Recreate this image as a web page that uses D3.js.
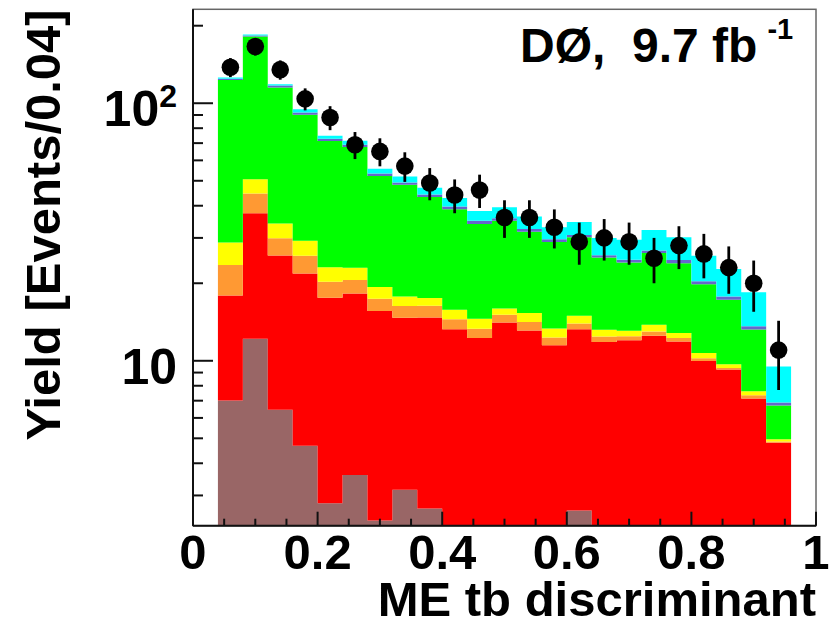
<!DOCTYPE html>
<html>
<head>
<meta charset="utf-8">
<script src="https://cdn.jsdelivr.net/npm/d3@7"></script>
<style>
  body { margin: 0; background: #fff; }
  text { font-family: "Liberation Sans", Arial, Helvetica, sans-serif; font-weight: bold; fill: #000; }
</style>
</head>
<body>
<svg id="chart" width="829" height="627"></svg>
<script>
// Bin edges of the ME tb discriminant histogram (width 0.04)
const binEdges = [0.04, 0.08, 0.12, 0.16, 0.20, 0.24, 0.28, 0.32, 0.36, 0.40, 0.44, 0.48,
                  0.52, 0.56, 0.60, 0.64, 0.68, 0.72, 0.76, 0.80, 0.84, 0.88, 0.92, 0.96];

// Expected yields per bin, one array per process (stacked bottom to top)
const multijet = [7.01, 12.19, 6.45, 4.68, 2.80, 3.60, 2.40, 3.16, 2.67, 0, 0, 0,
                  0, 0, 2.62, 0, 0, 0, 0, 0, 0, 0, 0];
const ttbar    = [10.91, 25.23, 19.18, 17.14, 14.76, 14.65, 13.19, 11.53, 12.05, 13.27, 12.25, 14.08,
                  13.11, 11.50, 10.65, 11.82, 12.01, 12.50, 11.88, 9.97, 9.25, 7.14, 4.81];
const dibosons = [5.65, 7.18, 4.30, 3.74, 2.70, 2.32, 1.81, 1.63, 1.63, 1.24, 1.06, 1.00,
                  1.02, 0.81, 0.68, 0.60, 0.45, 0.50, 0.37, 0.27, 0.12, 0.21, 0.05];
const zjets    = [5.21, 6.12, 4.18, 3.66, 2.84, 2.39, 1.92, 1.43, 1.16, 1.26, 1.24, 0.88,
                  1.19, 1.03, 1.00, 0.77, 0.61, 0.79, 0.56, 0.47, 0.32, 0.26, 0.10];
const wjets    = [94.3, 130.9, 81.1, 60.9, 48.2, 44.7, 32.8, 30.45, 25.7, 23.0, 19.4, 19.0,
                  16.35, 15.6, 15.25, 12.0, 11.0, 12.4, 11.1, 9.13, 7.55, 5.62, 1.75];
const tqb      = [1.3, 1.6, 2.1, 1.85, 1.47, 1.39, 1.26, 1.08, 1.04, 0.94, 1.00, 0.84,
                  0.85, 0.70, 0.62, 0.52, 0.58, 0.63, 0.71, 0.53, 0.51, 0.39, 0.18];
const tb       = [1.5, 1.7, 1.2, 2.85, 2.03, 2.41, 2.24, 2.62, 2.76, 3.16, 3.24, 3.62,
                  3.78, 3.34, 3.78, 4.27, 4.86, 5.40, 5.55, 5.23, 4.95, 4.83, 2.61];

// Observed events and their uncertainties
const dataCounts = [138, 166, 135, 104, 88, 69, 65, 57, 49, 44, 46, 36,
                    36, 33, 29, 30, 29, 25, 28, 26, 23, 20, 11];
const dataErrors = [11.7, 12.9, 11.6, 10.2, 9.4, 8.3, 8.1, 7.5, 7.0, 6.6, 6.8, 6.0,
                    6.0, 5.7, 5.4, 5.5, 5.4, 5.0, 5.3, 5.1, 4.8, 4.5, 3.3];

// Axis ticks
const xMajorTicks = [0, 0.2, 0.4, 0.6, 0.8, 1];
const xTickLabels = ["0", "0.2", "0.4", "0.6", "0.8", "1"];
const xMinorTicks = [0.05, 0.1, 0.15, 0.25, 0.3, 0.35, 0.45, 0.5, 0.55, 0.65, 0.7, 0.75, 0.85, 0.9, 0.95];
const yMajorTicks = [10, 100];
const yTickBase = ["10", "10"];
const yTickExp = ["", "2"];
const yMinorTicks = [3, 4, 5, 6, 7, 8, 9, 20, 30, 40, 50, 60, 70, 80, 90, 200];

const processes = [
  { key: "multijet", values: multijet, color: "#996666" },
  { key: "ttbar",    values: ttbar,    color: "#ff0000" },
  { key: "dibosons", values: dibosons, color: "#ff9933" },
  { key: "zjets",    values: zjets,    color: "#ffff00" },
  { key: "wjets",    values: wjets,    color: "#00ff00" },
  { key: "tqb",      values: tqb,      color: "#6666cc" },
  { key: "tb",       values: tb,       color: "#00ffff" }
];

const frame = { left: 193, right: 816, top: 9.3, bottom: 525.7 };
const yMin = 2.289, yMax = 231.6;

const x = d3.scaleLinear().domain([0, 1]).range([frame.left, frame.right]);
const y = d3.scaleLog().domain([yMin, yMax]).range([frame.bottom, frame.top]);

const svg = d3.select("#chart");

svg.append("defs").append("clipPath").attr("id", "plotClip")
  .append("rect")
  .attr("x", frame.left).attr("y", frame.top)
  .attr("width", frame.right - frame.left).attr("height", frame.bottom - frame.top);

// Stack table: one row per bin
const nBins = binEdges.length - 1;
const rows = d3.range(nBins).map(i => {
  const r = { lo: binEdges[i], hi: binEdges[i + 1] };
  processes.forEach(p => { r[p.key] = p.values[i]; });
  return r;
});
const stacked = d3.stack().keys(processes.map(p => p.key))(rows);

// Each layer is drawn as one stepped area so neighbouring bins join without seams
const clampY = v => y(Math.max(v, yMin));
const area = d3.area()
  .x(d => x(d.x))
  .y0(d => clampY(d.lower))
  .y1(d => clampY(d.upper));

const stackG = svg.append("g").attr("clip-path", "url(#plotClip)");
stacked.forEach((layer, li) => {
  const pts = [];
  layer.forEach((seg, i) => {
    pts.push({ x: rows[i].lo, lower: seg[0], upper: seg[1] });
    pts.push({ x: rows[i].hi, lower: seg[0], upper: seg[1] });
  });
  stackG.append("path")
    .attr("d", area(pts))
    .attr("fill", processes[li].color)
    .attr("stroke", "none");
});

// Frame
svg.append("rect")
  .attr("x", frame.left).attr("y", frame.top)
  .attr("width", frame.right - frame.left).attr("height", frame.bottom - frame.top)
  .attr("fill", "none").attr("stroke", "#666").attr("stroke-width", 1.5);

// Axis lines
svg.append("line").attr("x1", frame.left).attr("x2", frame.left)
  .attr("y1", frame.top).attr("y2", frame.bottom).attr("stroke", "#111").attr("stroke-width", 2);
svg.append("line").attr("x1", frame.left).attr("x2", frame.right)
  .attr("y1", frame.bottom).attr("y2", frame.bottom).attr("stroke", "#111").attr("stroke-width", 2);

// Ticks (pointing into the frame)
const tickG = svg.append("g").attr("stroke", "#111").attr("stroke-width", 2);
tickG.selectAll(".xmaj").data(xMajorTicks).join("line")
  .attr("x1", d => x(d)).attr("x2", d => x(d))
  .attr("y1", frame.bottom).attr("y2", frame.bottom - 14);
tickG.selectAll(".xmin").data(xMinorTicks).join("line")
  .attr("x1", d => x(d)).attr("x2", d => x(d))
  .attr("y1", frame.bottom).attr("y2", frame.bottom - 7);
tickG.selectAll(".ymaj").data(yMajorTicks).join("line")
  .attr("x1", frame.left).attr("x2", frame.left + 20)
  .attr("y1", d => y(d)).attr("y2", d => y(d));
tickG.selectAll(".ymin").data(yMinorTicks).join("line")
  .attr("x1", frame.left).attr("x2", frame.left + 10)
  .attr("y1", d => y(d)).attr("y2", d => y(d));

// Tick labels
svg.selectAll(".xlab").data(xMajorTicks).join("text")
  .attr("x", d => x(d)).attr("y", 569)
  .attr("text-anchor", "middle").attr("font-size", 49)
  .text((d, i) => xTickLabels[i]);

yMajorTicks.forEach((v, i) => {
  const t = svg.append("text")
    .attr("x", 177).attr("y", y(v) + 23)
    .attr("text-anchor", "end").attr("font-size", 50);
  t.append("tspan").text(yTickBase[i]);
  if (yTickExp[i]) {
    t.append("tspan").attr("font-size", 32).attr("dy", -19).text(yTickExp[i]);
  }
});

// Axis titles
svg.append("text")
  .attr("x", frame.right).attr("y", 616)
  .attr("text-anchor", "end").attr("font-size", 49)
  .text("ME tb discriminant");

svg.append("text")
  .attr("transform", `translate(60, ${frame.top}) rotate(-90)`)
  .attr("text-anchor", "end").attr("font-size", 49)
  .text("Yield [Events/0.04]");

// Experiment and luminosity label
const lumi = svg.append("text")
  .attr("x", 520).attr("y", 62)
  .attr("font-size", 48)
  .style("white-space", "pre");
lumi.append("tspan").text("DØ,  9.7 fb");
lumi.append("tspan").attr("font-size", 29).attr("dx", 10).attr("dy", -23).text("-1");

// Data points with error bars
const centers = d3.range(nBins).map(i => (binEdges[i] + binEdges[i + 1]) / 2);
const dataG = svg.append("g");
dataG.selectAll("line").data(dataCounts).join("line")
  .attr("x1", (d, i) => x(centers[i])).attr("x2", (d, i) => x(centers[i]))
  .attr("y1", (d, i) => y(d + dataErrors[i]))
  .attr("y2", (d, i) => y(d - dataErrors[i]))
  .attr("stroke", "#000").attr("stroke-width", 2.8);
dataG.selectAll("circle").data(dataCounts).join("circle")
  .attr("cx", (d, i) => x(centers[i])).attr("cy", d => y(d))
  .attr("r", 8.8).attr("fill", "#000");
</script>
</body>
</html>
